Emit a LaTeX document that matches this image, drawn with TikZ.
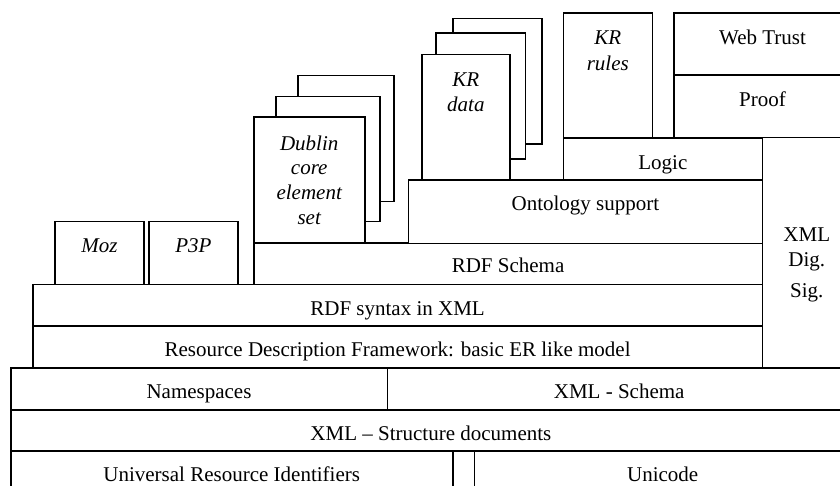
\documentclass[tikz,border=0pt]{standalone}
\usepackage{fontspec}
\setmainfont{Liberation Serif}
\usetikzlibrary{positioning}

\tikzset{
  layer/.style={draw, line width=1.6pt, fill=white, inner sep=0pt, align=center,
                font=\fontsize{21}{25}\selectfont},
  low/.style={text height=20pt, text depth=0pt},
  mid/.style={text height=7pt, text depth=7pt},
  txt/.style={inner sep=0pt, align=center, font=\fontsize{21}{25}\selectfont},
  kr/.style={txt, font=\fontsize{21}{25.5}\selectfont\itshape}
}

\begin{document}
\begin{tikzpicture}[x=1pt, y=-1pt]
    \useasboundingbox (0,0) rectangle (840,486);
    \clip (0,0) rectangle (840,486);

    % Base layers
    \node[layer, low, text height=22pt, minimum width=442pt, minimum height=39pt] (uri) at (231.7,470.5) {Universal Resource Identifiers};
    \node[layer, low, text height=22pt, minimum width=376.7pt, minimum height=39pt] (unicode) at (662.7,470.5) {Unicode};
    \node[layer, low, minimum width=840.3pt, minimum height=41pt] (xmlstruct) at (430.9,430.5) {XML – Structure documents};
    \node[layer, low, minimum width=376.6pt, minimum height=42.3pt] (ns) at (199,388.9) {Namespaces};
    \node[layer, low, minimum width=463.7pt, minimum height=42.3pt] (xmlschema) at (619.2,388.9) {XML - Schema};

    % RDF layers
    \node[layer, low, minimum width=729.8pt, minimum height=41.7pt] (rdf) at (397.6,346.9) {Resource Description Framework: basic ER like model};
    \node[layer, low, minimum width=729.8pt, minimum height=41.7pt] (rdfsyn) at (397.6,305.2) {RDF syntax in XML};
    \node[layer, low, text height=18pt, minimum width=508.8pt, minimum height=41pt] (rdfs) at (508.1,263.8) {RDF Schema};
    \node[layer, mid, minimum width=89.3pt, minimum height=62.6pt, font=\fontsize{21}{25}\selectfont\itshape] (moz) at (99.4,253) {Moz};
    \node[layer, mid, minimum width=89.3pt, minimum height=62.6pt, font=\fontsize{21}{25}\selectfont\itshape] (p3p) at (193.4,253) {P3P};

    % Dublin core stack
    \node[layer, minimum width=96.3pt, minimum height=126pt] (dcback) at (345.9,138.7) {};
    \node[layer, minimum width=104pt, minimum height=125pt] (dcmid) at (327.7,159.2) {};
    \node[layer, minimum width=111pt, minimum height=125.4pt, font=\fontsize{21}{24.7}\selectfont\itshape] (dc) at (309.2,180) {Dublin\\core\\element\\set};

    % Ontology and logic
    \node[layer, minimum width=354.2pt, minimum height=63.3pt] (onto) at (585.4,211.7) {};
    \node[txt] (ontotxt) at ([yshift=6pt]onto.center) {Ontology support};
    \node[layer, low, text height=22pt, minimum width=199.2pt, minimum height=42.3pt] (logic) at (662.9,158.9) {Logic};
    \node[layer, minimum width=88.5pt, minimum height=230pt] (xmlsig) at (806.8,252.7) {};
    \node[txt] (sigtxt) at ([yshift=-12pt]xmlsig.center) {XML\\Dig.\\[6pt]Sig.};

    % KR data stack
    \node[layer, minimum width=89pt, minimum height=125.7pt] (krback) at (497.2,81.2) {};
    \node[layer, minimum width=89.3pt, minimum height=126pt] (krmid) at (480.7,96.3) {};
    \node[layer, minimum width=88.3pt, minimum height=125.7pt] (krdata) at (465.9,117.2) {};
    \node[kr] (krdatatxt) at ([yshift=25pt]krdata.center) {KR\\data};

    % Top layers
    \node[layer, minimum width=89pt, minimum height=124.4pt] (krrules) at (607.8,75.5) {};
    \node[kr] (krrulestxt) at ([yshift=24.5pt]krrules.center) {KR\\rules};
    \node[layer, mid, minimum width=177pt, minimum height=62.4pt] (proof) at (762.5,106.5) {Proof};
    \node[layer, minimum width=177pt, minimum height=62pt] (trust) at (762.5,44.3) {};
    \node[txt] (trusttxt) at ([yshift=7pt]trust.center) {Web Trust};
\end{tikzpicture}
\end{document}
